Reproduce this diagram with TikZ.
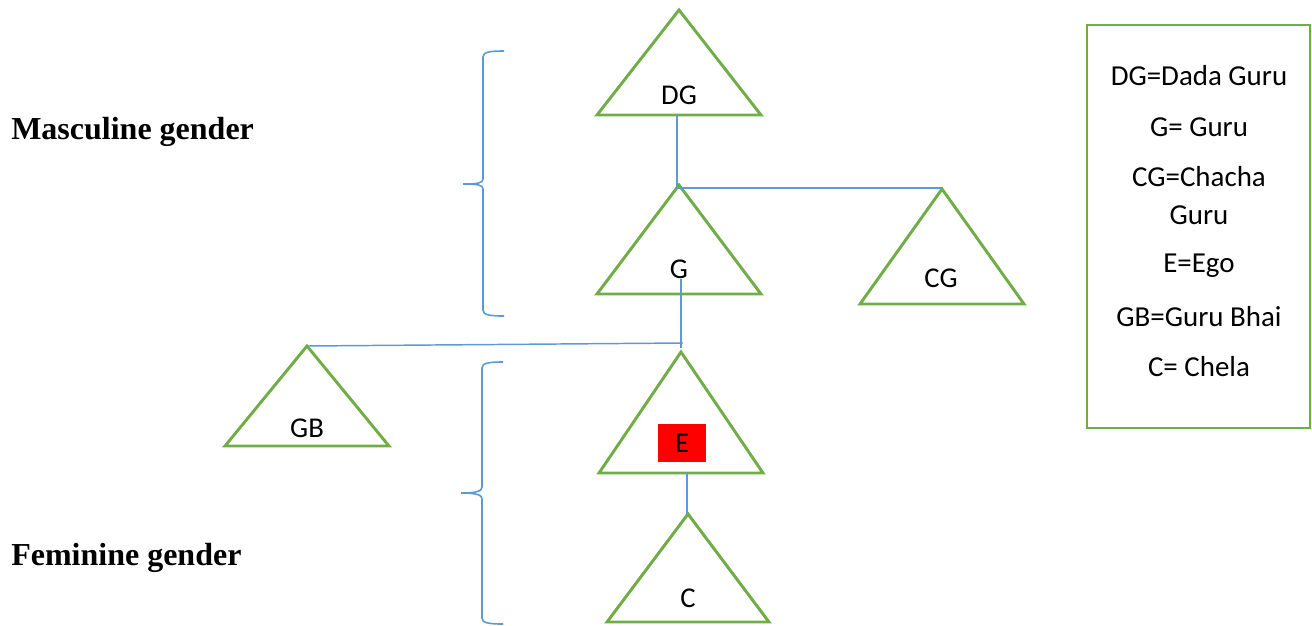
\documentclass[tikz,border=0pt]{standalone}
\usepackage{fontspec}
\setmainfont{Carlito}
\newfontfamily\headfont{Liberation Serif}
\definecolor{trigreen}{RGB}{112,173,71}
\definecolor{linkblue}{RGB}{91,155,213}
\tikzset{
  tri/.style={draw=trigreen, line width=2.2pt, line join=miter},
  link/.style={draw=linkblue, line width=1.1pt},
  brace/.style={draw=linkblue, line width=1.2pt},
  tlabel/.style={font=\fontsize{21.5}{26}\selectfont, inner sep=0pt},
  keyline/.style={font=\fontsize{21.7}{26}\selectfont, inner sep=0pt, anchor=center},
  gender/.style={font=\headfont\bfseries\fontsize{24}{28}\selectfont, anchor=west, inner sep=0pt}
}
% kin triangle: name, apex x, apex y, base y, half width
\newcommand{\kintri}[5]{%
  \coordinate (#1-top) at (#2,#3);
  \coordinate (#1-bot) at (#2,#4);
  \draw[tri] (#2,#3) -- (#2+#5,#4) -- (#2-#5,#4) -- cycle;}
\begin{document}
\begin{tikzpicture}[x=0.75pt,y=-0.75pt]
\useasboundingbox (0,0) rectangle (1312,625);

% triangles
\kintri{DG}{679}{10}{115}{82}
\kintri{G}{679}{185}{294}{82}
\kintri{CG}{942}{189}{304}{82}
\kintri{GB}{307}{346}{446}{82}
\kintri{E}{681}{352}{473}{82}
\kintri{C}{688}{514}{622}{81}

% labels
\node[tlabel] (lDG) at (679,95) {DG};
\node[tlabel] (lG) at (679,269) {G};
\node[tlabel] (lCG) at (941,278) {CG};
\node[tlabel] (lGB) at (307,428) {GB};
\node[fill=red, minimum width=36pt, minimum height=29pt, inner sep=0pt,
      font=\fontsize{21.5}{26}\selectfont] (lE) at (682,443) {E};
\node[tlabel] (lC) at (688,598) {C};

% connectors
\coordinate (DGs) at (677,115);
\coordinate (DGj) at (677,188);
\draw[link] (DGs) -- (DGj);
\draw[link] (DGj) -- (CG-top |- DGj);
\coordinate (Gs) at (681,279);
\coordinate (Gj) at (681,348);
\coordinate (Gh) at (683,343);
\draw[link] (Gs) -- (Gj);
\draw[link] (Gh) -- (GB-top);
\coordinate (Es) at (687,473);
\draw[link] (Es) -- (C-top -| Es);

% braces
\draw[brace] (504,51) .. controls (490,51) and (483,52) .. (483,57) -- (483,179)
  .. controls (483,183) and (478,184) .. (463,184)
  .. controls (478,184) and (483,185) .. (483,189) -- (483,310)
  .. controls (483,315) and (490,316) .. (504,316);
\draw[brace] (503,362) .. controls (489,362) and (482,363) .. (482,368) -- (482,487)
  .. controls (482,491) and (477,493) .. (461,493)
  .. controls (477,493) and (482,495) .. (482,499) -- (482,618)
  .. controls (482,623) and (489,624) .. (503,624);

% group headings
\node[gender] (masc) at (11,132) {Masculine gender};
\node[gender] (fem) at (11,558) {Feminine gender};

% key
\draw[tri] (1087,25) rectangle (1310,428);
\node[keyline] (k1) at (1199,76) {DG=Dada Guru};
\node[keyline] (k2) at (1199,127) {G= Guru};
\node[keyline] (k3) at (1199,177) {CG=Chacha};
\node[keyline] (k4) at (1199,215) {Guru};
\node[keyline] (k5) at (1199,266) {E=Ego};
\node[keyline] (k6) at (1199,317) {GB=Guru Bhai};
\node[keyline] (k7) at (1199,367) {C= Chela};
\end{tikzpicture}
\end{document}
